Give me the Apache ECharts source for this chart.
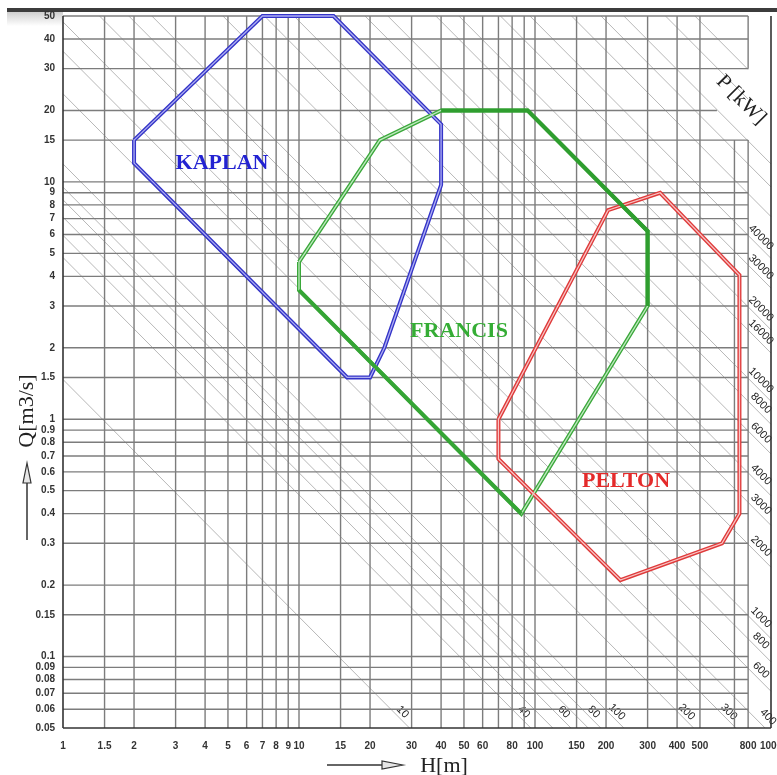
<!DOCTYPE html>
<html>
<head>
<meta charset="utf-8">
<script src="https://cdn.jsdelivr.net/npm/echarts@6/dist/echarts.min.js"></script>
<style>
html, body { margin: 0; padding: 0; background: #fff; }
#chart { width: 777px; height: 775px; }
</style>
</head>
<body>
<div id="chart"></div>
<script>
// axis ticks (H in m, Q in m3/s)
const hTicks = [1, 1.5, 2, 3, 4, 5, 6, 7, 8, 9, 10, 15, 20, 30, 40, 50, 60, 80, 100, 150, 200, 300, 400, 500, 800, 1000];
const hGrid = [1.5, 2, 3, 4, 5, 6, 7, 8, 9, 10, 15, 20, 30, 40, 50, 60, 70, 80, 90, 100, 150, 200, 300, 400, 500];
const qTicks = [50, 40, 30, 20, 15, 10, 9, 8, 7, 6, 5, 4, 3, 2, 1.5, 1, 0.9, 0.8, 0.7, 0.6, 0.5, 0.4, 0.3, 0.2, 0.15, 0.1, 0.09, 0.08, 0.07, 0.06, 0.05];

const powerQH = [1.47, 4.8, 5.95, 7.1, 8.4, 9.5, 11.9, 23.5, 35.5, 47.2, 71.4, 95, 119, 238, 357, 476, 714, 952, 1190, 1900, 2380, 3570, 4760, 7140, 9520, 11900, 17860, 23800];
const powerLabels = ['10', '40', '', '60', '', '80', '100', '200', '300', '400', '600', '800', '1000', '2000', '3000', '4000', '6000', '8000', '10000', '16000', '20000', '30000', '40000', '', '', '', '', ''];

// turbine application ranges
const kaplanH = [2, 7, 14, 40, 40, 23, 20, 16, 2, 2];
const kaplanQ = [15, 50, 50, 17.5, 9.7, 2, 1.5, 1.5, 12, 15];
const francisH = [10, 22, 40, 93, 300, 300, 87.5, 10, 10];
const francisQ = [4.6, 15, 20, 20, 6.2, 3.0, 0.4, 3.5, 4.6];
const francisSolidH = [40, 93, 300, 300];
const francisSolidQ = [20, 20, 6.2, 3.0];
const francisSolid2H = [10, 87.5];
const francisSolid2Q = [3.5, 0.4];
const peltonH = [70, 204, 339, 735, 735, 620, 230, 70, 70];
const peltonQ = [1.0, 7.6, 9.0, 4.05, 0.4, 0.3, 0.21, 0.68, 1.0];

const chart = echarts.init(document.getElementById('chart'));

const pairs = (hs, qs) => hs.map((h, i) => [h, qs[i]]);

// grid segments [h1, q1, h2, q2, border?]
const gridSegs = [];
hGrid.forEach(h => gridSegs.push([h, 0.05, h, 50, 0]));
gridSegs.push([700, 0.05, 700, 15, 0]);
gridSegs.push([800, 0.05, 800, 15, 0]);
gridSegs.push([800, 30, 800, 50, 0]);
qTicks.slice(1, -1).forEach(q => gridSegs.push([1, q, q === 20 ? 590 : 800, q, 0]));
gridSegs.push([1, 50, 800, 50, 0]);
gridSegs.push([1, 0.05, 1000, 0.05, 1]);
gridSegs.push([1, 0.05, 1, 50, 1]);
gridSegs.push([1000, 0.05, 1000, 50, 1]);

const serif = '"Liberation Serif", "Times New Roman", serif';
const sans = '"Liberation Sans", Arial, sans-serif';

const outline = (name, data, color, width, z) => ({
    name: name,
    type: 'line',
    data: data,
    symbol: 'none',
    clip: false,
    silent: true,
    z: z,
    lineStyle: { color: color, width: width, join: 'miter' },
});

const option = {
    backgroundColor: '#fff',
    animation: false,
    grid: { left: 63, top: 16, width: 708, height: 712 },
    xAxis: {
        type: 'log', logBase: 10, min: 1, max: 1000,
        axisLine: { show: false }, axisTick: { show: false },
        axisLabel: { show: false }, splitLine: { show: false },
    },
    yAxis: {
        type: 'log', logBase: 10, min: 0.05, max: 50,
        axisLine: { show: false }, axisTick: { show: false },
        axisLabel: { show: false }, splitLine: { show: false },
    },
    series: [
        {
            // diagonal kW lines
            type: 'custom',
            silent: true,
            z: 1,
            data: powerQH.map((c, i) => [c, i]),
            renderItem: (params, api) => {
                const c = api.value(0);
                const txt = powerLabels[params.dataIndex];
                let a, b;
                if (c <= 50) {
                    a = [1, c]; b = [20 * c, 0.05];
                } else {
                    a = [c / 50, 50];
                    b = c > 15000 ? [800, c / 800] : [1000, c / 1000];
                }
                const p1 = api.coord(a);
                const p2 = api.coord(b);
                const children = [{
                    type: 'line',
                    shape: { x1: p1[0], y1: p1[1], x2: p2[0], y2: p2[1] },
                    style: { stroke: '#b8b8b8', lineWidth: 1 },
                }];
                if (txt) {
                    let off = c <= 50 ? [-7, -16] : [-10, -21];
                    if (c > 40 && c <= 50) off = [3, -11];
                    children.push({
                        type: 'text',
                        x: p2[0] + off[0],
                        y: p2[1] + off[1],
                        rotation: -Math.PI / 4,
                        style: { text: txt, font: '11px ' + sans, fill: '#222', align: 'center', verticalAlign: 'middle' },
                    });
                }
                return { type: 'group', children: children };
            },
        },
        {
            // grid lines and frame
            type: 'custom',
            silent: true,
            z: 2,
            data: gridSegs,
            renderItem: (params, api) => {
                const a = api.coord([api.value(0), api.value(1)]);
                const b = api.coord([api.value(2), api.value(3)]);
                const border = api.value(4) === 1;
                return {
                    type: 'line',
                    shape: { x1: a[0], y1: a[1], x2: b[0], y2: b[1] },
                    style: { stroke: border ? '#333' : '#7c7c7c', lineWidth: border ? 1.6 : 1.4 },
                };
            },
        },
        {
            // Q tick labels
            type: 'custom',
            silent: true,
            z: 3,
            zlevel: 1,
            data: qTicks.map(q => [1, q]),
            renderItem: (params, api) => {
                const p = api.coord([api.value(0), api.value(1)]);
                return {
                    type: 'text', x: p[0] - 8, y: p[1],
                    style: { text: String(api.value(1)), font: 'bold 10px ' + sans, fill: '#333', align: 'right', verticalAlign: 'middle' },
                };
            },
        },
        {
            // H tick labels
            type: 'custom',
            silent: true,
            z: 3,
            data: hTicks.map(h => [h, 0.05]),
            renderItem: (params, api) => {
                const p = api.coord([api.value(0), api.value(1)]);
                return {
                    type: 'text', x: p[0], y: p[1] + 18,
                    style: { text: String(api.value(0)), font: 'bold 10px ' + sans, fill: '#333', align: 'center', verticalAlign: 'middle' },
                };
            },
        },
        outline('kaplan', pairs(kaplanH, kaplanQ), '#3434c8', 4, 5),
        outline('kaplan-in', pairs(kaplanH, kaplanQ), '#aeaef2', 1.3, 6),
        outline('francis', pairs(francisH, francisQ), '#3aa83a', 4, 5),
        outline('francis-in', pairs(francisH, francisQ), '#bfe8bf', 1.3, 6),
        outline('francis-solid', pairs(francisSolidH, francisSolidQ), '#2f9e2f', 4, 7),
        outline('francis-solid2', pairs(francisSolid2H, francisSolid2Q), '#35a535', 3.6, 7),
        outline('pelton', pairs(peltonH, peltonQ), '#df3a3a', 4, 5),
        outline('pelton-in', pairs(peltonH, peltonQ), '#f8c4c4', 1.3, 6),
    ],
    graphic: [
        { type: 'rect', shape: { x: 7, y: 12, width: 56, height: 14 }, silent: true, z: -1,
          style: { fill: new echarts.graphic.LinearGradient(0, 0, 0, 1, [{ offset: 0, color: '#cfcfcf' }, { offset: 1, color: '#ffffff' }]) } },
        { type: 'rect', shape: { x: 7, y: 8, width: 770, height: 4 }, style: { fill: '#3c3c3c' }, silent: true },
        { type: 'text', x: 222, y: 163, style: { text: 'KAPLAN', font: 'bold 22px ' + serif, fill: '#2323d2', align: 'center', verticalAlign: 'middle' }, z: 10 },
        { type: 'text', x: 459, y: 331, style: { text: 'FRANCIS', font: 'bold 22px ' + serif, fill: '#35ad35', align: 'center', verticalAlign: 'middle' }, z: 10 },
        { type: 'text', x: 626, y: 481, style: { text: 'PELTON', font: 'bold 22px ' + serif, fill: '#e42a2a', align: 'center', verticalAlign: 'middle' }, z: 10 },
        { type: 'text', x: 741, y: 100, rotation: -Math.PI / 4, style: { text: 'P [kW]', font: '21px ' + serif, fill: '#222', align: 'center', verticalAlign: 'middle' }, z: 10 },
        { type: 'text', x: 27, y: 411, rotation: Math.PI / 2, style: { text: 'Q[m3/s]', font: '22px ' + serif, fill: '#222', align: 'center', verticalAlign: 'middle' }, z: 10 },
        { type: 'line', shape: { x1: 27, y1: 540, x2: 27, y2: 483 }, style: { stroke: '#333', lineWidth: 1.5 } },
        { type: 'polygon', shape: { points: [[27, 463], [23, 483], [31, 483]] }, style: { fill: '#e6e6e6', stroke: '#333', lineWidth: 1.2 } },
        { type: 'text', x: 444, y: 766, style: { text: 'H[m]', font: '22px ' + serif, fill: '#222', align: 'center', verticalAlign: 'middle' }, z: 10 },
        { type: 'line', shape: { x1: 327, y1: 765, x2: 382, y2: 765 }, style: { stroke: '#333', lineWidth: 1.5 } },
        { type: 'polygon', shape: { points: [[403, 765], [382, 761], [382, 769]] }, style: { fill: '#e6e6e6', stroke: '#333', lineWidth: 1.2 } },
    ],
};

chart.setOption(option);
</script>
</body>
</html>
